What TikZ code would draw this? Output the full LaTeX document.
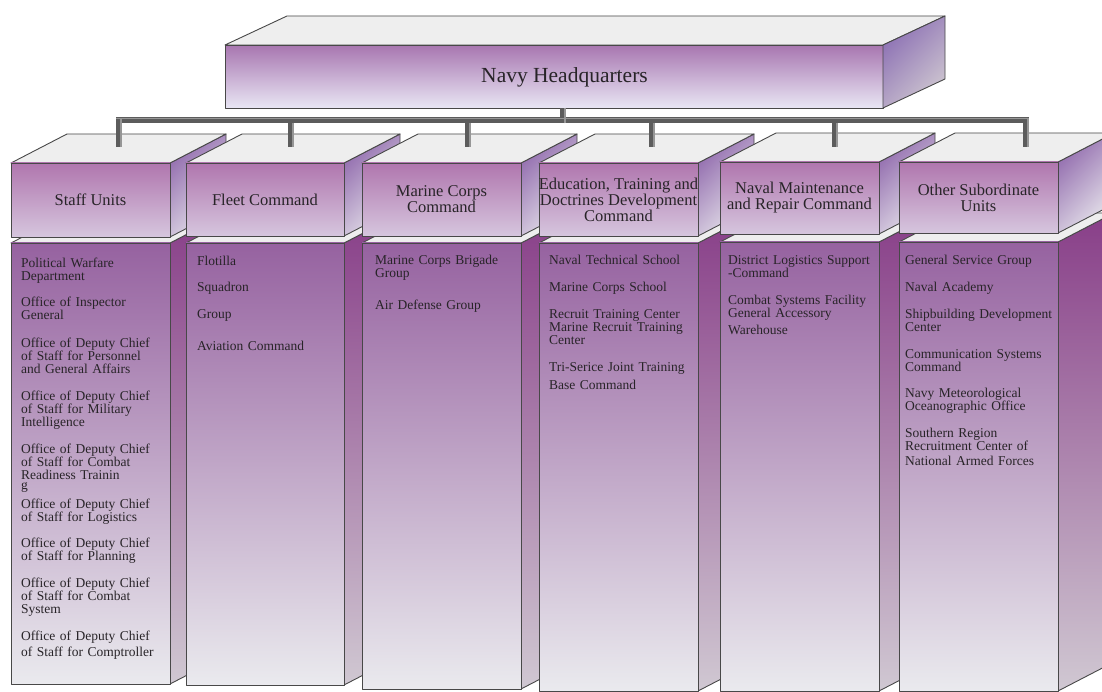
\documentclass[tikz,border=0pt]{standalone}
\usepackage{fontspec}
\setmainfont{Liberation Serif}
\definecolor{hdtop}{RGB}{176,118,174}
\definecolor{hdbot}{RGB}{214,198,222}
\definecolor{bdtop}{RGB}{150,98,160}
\definecolor{bdbot}{RGB}{234,234,238}
\definecolor{rftop}{RGB}{136,62,136}
\definecolor{rfbot}{RGB}{208,200,210}
\definecolor{hrfA}{RGB}{146,108,174}
\definecolor{hrfB}{RGB}{232,230,236}
\definecolor{hqsA}{RGB}{140,112,180}
\definecolor{hqsB}{RGB}{206,198,208}
\definecolor{topface}{RGB}{238,238,238}
\definecolor{edge}{RGB}{72,72,72}
\definecolor{hqtop}{RGB}{168,118,176}
\definecolor{hqbot}{RGB}{232,230,244}
\definecolor{bargray}{RGB}{92,92,92}
\definecolor{barlight}{RGB}{150,150,150}
\definecolor{txt}{RGB}{40,36,40}
\begin{document}
\begin{tikzpicture}[x=1pt,y=-1pt,
  edgeline/.style={draw=edge, line width=0.9pt, line join=round},
  topfc/.style={edgeline, fill=topface},
  bodyface/.style={edgeline, rectangle, top color=bdtop, bottom color=bdbot, inner sep=0pt, outer sep=0pt},
  headface/.style={edgeline, rectangle, top color=hdtop, bottom color=hdbot, inner sep=0pt, outer sep=0pt},
  hqface/.style={edgeline, rectangle, top color=hqtop, bottom color=hqbot, inner sep=0pt, outer sep=0pt},
  bodyside/.style={edgeline, top color=rftop, bottom color=rfbot},
  headside/.style={edgeline, top color=hrfA, bottom color=hrfB, shading angle=45},
  hqside/.style={edgeline, top color=hqsA, bottom color=hqsB, shading angle=45},
  headtext/.style={font=\fontsize{16.5}{16}\selectfont, text=txt, align=center, inner sep=0pt},
  hqtext/.style={font=\fontsize{21.5}{22}\selectfont, text=txt, inner sep=0pt, anchor=base},
  item/.style={font=\fontsize{13.5}{13}\selectfont, text=txt, text width=185pt, align=left, inner sep=0pt, anchor=base west},
  barline/.style={draw=bargray, line width=6pt, line join=miter, line cap=butt},
  barhl/.style={draw=barlight, line width=1.3pt, line cap=butt}
]
\useasboundingbox (0,0) rectangle (1102,692);
\clip (0,0) rectangle (1102,692);
\fill[white] (0,0) rectangle (1102,692);
\def\cdx{56}
\def\cdy{29}
\newcommand\navycol[8]{%
  \shade[bodyside] (#3,#6) -- ++(\cdx,-\cdy) -- ++(0,{#7-#6}) -- (#3,#7) -- cycle;
  \filldraw[topfc] (#2,#6) -- ++(\cdx,-\cdy) -- ({#3+\cdx},{#6-\cdy}) -- (#3,#6) -- cycle;
  \node[bodyface, minimum width={#3-#2}, minimum height={#7-#6}, anchor=north west] (#1b) at (#2,#6) {};
  \shade[headside] (#3,#4) -- ++(\cdx,-\cdy) -- ++(0,{#5-#4}) -- (#3,#5) -- cycle;
  \filldraw[topfc] (#2,#4) -- ++(\cdx,-\cdy) -- ({#3+\cdx},{#4-\cdy}) -- (#3,#4) -- cycle;
  \node[headface, minimum width={#3-#2}, minimum height={#5-#4}, anchor=north west] (#1h) at (#2,#4) {};
  \node[headtext] (#1t) at (#1h.center) {#8};
}
% headquarters
\node[hqface, minimum width=658, minimum height=63, anchor=north west] (hq) at (225,45) {};
\filldraw[topfc] (hq.north west) -- ++(62,-29) -- ++(658,0) -- (hq.north east) -- cycle;
\shade[hqside] (hq.north east) -- ++(62,-29) -- ++(0,63) -- (hq.south east) -- cycle;
\node[hqtext] (hqt) at (564.5,82.3) {Navy Headquarters};
% columns
\navycol{su}{11}{170}{163}{237}{243}{684}{Staff Units}
\navycol{fc}{186}{344}{163}{236}{243}{685}{Fleet Command}
\navycol{mc}{362}{521}{163}{236}{243}{689}{Marine Corps\\Command}
\navycol{ed}{539}{698}{163}{236}{243}{691}{Education, Training and\\Doctrines Development\\Command}
\navycol{nm}{720}{879}{162}{234}{242}{691}{Naval Maintenance\\and Repair Command}
\navycol{os}{899}{1058}{162}{233}{242}{691}{Other Subordinate\\Units}
% connectors
\coordinate (hqs) at (563,108);
\coordinate (busy) at (0,120.5);
\coordinate (c1) at (119,147);
\coordinate (c2) at (291,147);
\coordinate (c3) at (468,147);
\coordinate (c4) at (652,147);
\coordinate (c5) at (835,147);
\coordinate (c6) at (1026,147);
\draw[barline] (hqs) -- (hqs |- busy);
\draw[barline] (c1) -- (c1 |- busy) -- (c6 |- busy) -- (c6);
\foreach \c in {c2,c3,c4,c5} \draw[barline] (\c) -- (\c |- busy);
\draw[barhl] ([xshift=2pt]c1) -- ([xshift=2pt,yshift=2pt]c1 |- busy);
\draw[barhl] ([xshift=-3pt,yshift=2pt]c1 |- busy) -- ([xshift=2pt,yshift=2pt]c6 |- busy) -- ([xshift=2pt]c6);
\foreach \c in {c2,c3,c4,c5} \draw[barhl] ([xshift=2pt]\c) -- ([xshift=2pt,yshift=-3pt]\c |- busy);
\draw[barhl] ([xshift=2pt,yshift=-3pt]hqs |- busy) -- ([xshift=2pt]hqs);
% Staff Units items
\node[item] (s1) at (21,268) {Political Warfare\\Department};
\node[item] (s2) at (21,306.7) {Office of Inspector\\General};
\node[item] (s3) at (21,347.3) {Office of Deputy Chief\\of Staff for Personnel\\and General Affairs};
\node[item] (s4) at (21,400) {Office of Deputy Chief\\of Staff for Military\\Intelligence};
\node[item] (s5) at (21,453.3) {Office of Deputy Chief\\of Staff for Combat\\Readiness Trainin\\[-3pt]g};
\node[item] (s6) at (21,508) {Office of Deputy Chief\\of Staff for Logistics};
\node[item] (s7) at (21,547) {Office of Deputy Chief\\of Staff for Planning};
\node[item] (s8) at (21,587) {Office of Deputy Chief\\of Staff for Combat\\System};
\node[item] (s9) at (21,640) {Office of Deputy Chief\\[3.5pt]of Staff for Comptroller};
% Fleet Command items
\node[item] (f1) at (197,266) {Flotilla};
\node[item] (f2) at (197,291.7) {Squadron};
\node[item] (f3) at (197,319) {Group};
\node[item] (f4) at (197,350) {Aviation Command};
% Marine Corps items
\node[item] (m1) at (375,265) {Marine Corps Brigade\\Group};
\node[item] (m2) at (375,309) {Air Defense Group};
% Education items
\node[item] (e1) at (549,265) {Naval Technical School};
\node[item] (e2) at (549,291.7) {Marine Corps School};
\node[item] (e3) at (549,318.3) {Recruit Training Center\\Marine Recruit Training\\Center};
\node[item] (e4) at (549,371) {Tri-Serice Joint Training\\[5pt]Base Command};
% Naval Maintenance items
\node[item] (n1) at (728,265) {District Logistics Support\\-Command};
\node[item] (n2) at (728,305) {Combat Systems Facility\\General Accessory\\[3.5pt]Warehouse};
% Other Subordinate items
\node[item] (o1) at (905,265) {General Service Group};
\node[item] (o2) at (905,291.7) {Naval Academy};
\node[item] (o3) at (905,318.3) {Shipbuilding Development\\Center};
\node[item] (o4) at (905,358.3) {Communication Systems\\Command};
\node[item] (o5) at (905,397.7) {Navy Meteorological\\Oceanographic Office};
\node[item] (o6) at (905,437.7) {Southern Region\\Recruitment Center of\\[1.5pt]National Armed Forces};
\end{tikzpicture}
\end{document}
